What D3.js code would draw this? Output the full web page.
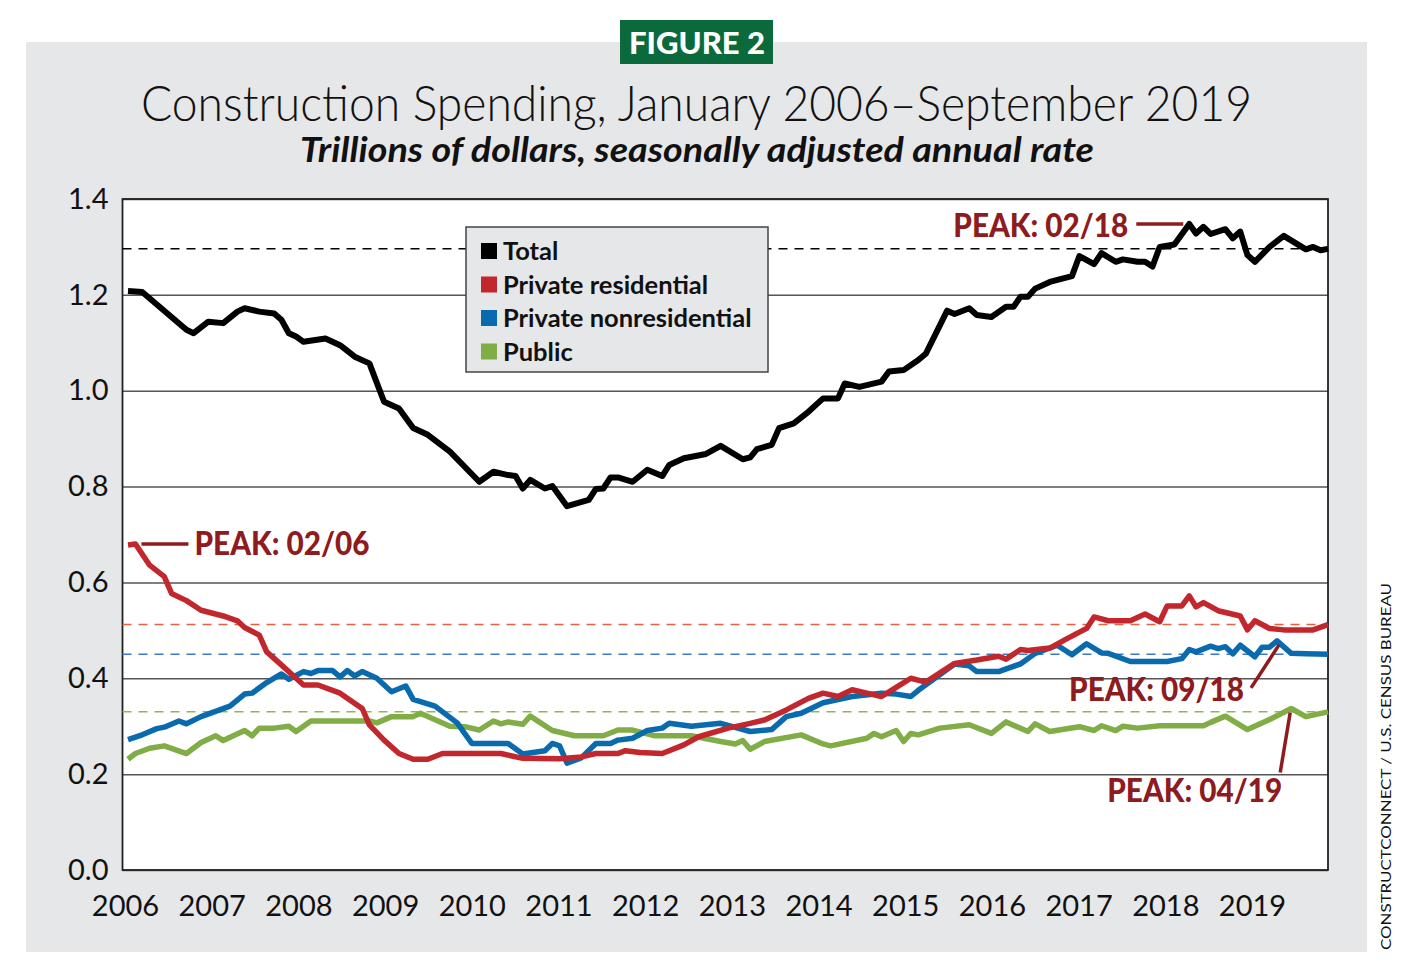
<!DOCTYPE html>
<html>
<head>
<meta charset="utf-8">
<script src="https://cdn.jsdelivr.net/npm/d3@7"></script>
<style>
body { margin: 0; background: #fff; }
svg text { font-family: Lato, "Open Sans", sans-serif; }
</style>
</head>
<body>
<svg id="chart" width="1406" height="971"></svg>
<script>
// values: [month, trillions of dollars]
var totalData = [["2006-01",1.208],["2006-03",1.206],["2006-09",1.127],["2006-10",1.120],["2006-12",1.144],["2007-02",1.141],["2007-04",1.165],["2007-05",1.172],["2007-07",1.165],["2007-09",1.161],["2007-10",1.148],["2007-11",1.120],["2007-12",1.113],["2008-01",1.102],["2008-04",1.109],["2008-06",1.095],["2008-08",1.071],["2008-10",1.057],["2008-12",0.977],["2009-02",0.963],["2009-04",0.922],["2009-06",0.908],["2009-09",0.873],["2010-01",0.810],["2010-03",0.831],["2010-05",0.824],["2010-06",0.822],["2010-07",0.796],["2010-08",0.814],["2010-10",0.796],["2010-11",0.801],["2011-01",0.759],["2011-04",0.772],["2011-05",0.795],["2011-06",0.796],["2011-07",0.819],["2011-08",0.819],["2011-10",0.810],["2011-12",0.835],["2012-02",0.822],["2012-03",0.845],["2012-05",0.859],["2012-08",0.868],["2012-10",0.885],["2013-01",0.857],["2013-02",0.861],["2013-03",0.878],["2013-05",0.887],["2013-06",0.922],["2013-08",0.932],["2013-10",0.956],["2013-12",0.984],["2014-02",0.984],["2014-03",1.015],["2014-05",1.008],["2014-08",1.019],["2014-09",1.040],["2014-11",1.043],["2015-01",1.064],["2015-02",1.077],["2015-05",1.167],["2015-06",1.160],["2015-08",1.172],["2015-09",1.158],["2015-11",1.154],["2016-01",1.175],["2016-02",1.175],["2016-03",1.196],["2016-04",1.196],["2016-05",1.213],["2016-07",1.227],["2016-10",1.239],["2016-11",1.281],["2017-01",1.264],["2017-02",1.287],["2017-04",1.269],["2017-05",1.274],["2017-07",1.269],["2017-08",1.269],["2017-09",1.259],["2017-10",1.300],["2017-12",1.305],["2018-02",1.348],["2018-03",1.328],["2018-04",1.342],["2018-05",1.327],["2018-07",1.337],["2018-08",1.318],["2018-09",1.332],["2018-10",1.283],["2018-11",1.269],["2019-01",1.300],["2019-03",1.323],["2019-06",1.295],["2019-07",1.300],["2019-08",1.293],["2019-09",1.296]];

var residentialData = [["2006-01",0.678],["2006-02",0.680],["2006-04",0.636],["2006-06",0.612],["2006-07",0.577],["2006-09",0.562],["2006-11",0.542],["2007-02",0.530],["2007-04",0.520],["2007-05",0.506],["2007-07",0.490],["2007-08",0.455],["2007-10",0.428],["2008-01",0.386],["2008-03",0.386],["2008-06",0.369],["2008-09",0.337],["2008-10",0.303],["2008-12",0.271],["2009-02",0.243],["2009-04",0.231],["2009-06",0.231],["2009-08",0.243],["2010-04",0.243],["2010-07",0.233],["2010-12",0.232],["2011-03",0.236],["2011-05",0.243],["2011-08",0.243],["2011-09",0.249],["2011-11",0.245],["2012-02",0.243],["2012-05",0.261],["2012-07",0.278],["2012-11",0.296],["2013-02",0.306],["2013-04",0.313],["2013-07",0.334],["2013-10",0.358],["2013-12",0.369],["2014-02",0.362],["2014-04",0.376],["2014-06",0.369],["2014-08",0.362],["2014-10",0.381],["2014-12",0.400],["2015-02",0.392],["2015-06",0.431],["2015-09",0.438],["2015-12",0.446],["2016-01",0.440],["2016-03",0.460],["2016-04",0.458],["2016-07",0.463],["2016-09",0.480],["2016-12",0.504],["2017-01",0.528],["2017-03",0.520],["2017-06",0.520],["2017-08",0.534],["2017-10",0.518],["2017-11",0.551],["2018-01",0.551],["2018-02",0.572],["2018-03",0.549],["2018-04",0.558],["2018-06",0.541],["2018-09",0.530],["2018-10",0.501],["2018-11",0.520],["2019-01",0.504],["2019-03",0.501],["2019-07",0.501],["2019-09",0.512]];

var nonresidentialData = [["2006-01",0.272],["2006-03",0.282],["2006-05",0.295],["2006-06",0.298],["2006-08",0.311],["2006-09",0.305],["2006-11",0.320],["2007-03",0.342],["2007-05",0.367],["2007-06",0.369],["2007-08",0.391],["2007-10",0.409],["2007-11",0.398],["2008-01",0.414],["2008-02",0.410],["2008-03",0.416],["2008-05",0.416],["2008-06",0.403],["2008-07",0.416],["2008-08",0.405],["2008-09",0.414],["2008-11",0.400],["2009-01",0.372],["2009-03",0.384],["2009-04",0.356],["2009-07",0.342],["2009-10",0.307],["2009-11",0.285],["2009-12",0.264],["2010-05",0.264],["2010-07",0.242],["2010-10",0.249],["2010-11",0.264],["2010-12",0.259],["2011-01",0.223],["2011-03",0.234],["2011-05",0.264],["2011-07",0.264],["2011-08",0.271],["2011-10",0.275],["2011-12",0.291],["2012-02",0.296],["2012-03",0.306],["2012-06",0.300],["2012-10",0.306],["2013-02",0.289],["2013-05",0.293],["2013-07",0.320],["2013-09",0.327],["2013-12",0.349],["2014-04",0.362],["2014-08",0.369],["2014-10",0.367],["2014-12",0.362],["2015-01",0.375],["2015-06",0.430],["2015-08",0.426],["2015-09",0.414],["2015-12",0.414],["2016-03",0.430],["2016-05",0.452],["2016-08",0.469],["2016-10",0.449],["2016-12",0.472],["2017-02",0.453],["2017-03",0.452],["2017-06",0.435],["2017-11",0.435],["2018-01",0.441],["2018-02",0.460],["2018-03",0.455],["2018-05",0.467],["2018-06",0.462],["2018-07",0.466],["2018-08",0.451],["2018-09",0.469],["2018-11",0.445],["2018-12",0.465],["2019-01",0.465],["2019-02",0.478],["2019-04",0.452],["2019-06",0.451],["2019-09",0.450]];

var publicData = [["2006-01",0.231],["2006-02",0.243],["2006-04",0.254],["2006-06",0.259],["2006-09",0.243],["2006-11",0.266],["2007-01",0.280],["2007-02",0.270],["2007-05",0.291],["2007-06",0.280],["2007-07",0.296],["2007-09",0.296],["2007-11",0.300],["2007-12",0.289],["2008-02",0.311],["2008-10",0.311],["2008-11",0.307],["2009-01",0.320],["2009-04",0.320],["2009-05",0.327],["2009-09",0.300],["2009-11",0.299],["2010-01",0.292],["2010-03",0.311],["2010-04",0.305],["2010-05",0.309],["2010-07",0.304],["2010-08",0.321],["2010-11",0.291],["2011-02",0.280],["2011-06",0.280],["2011-08",0.292],["2011-10",0.292],["2012-01",0.280],["2012-06",0.280],["2012-10",0.268],["2012-12",0.263],["2013-01",0.270],["2013-02",0.252],["2013-04",0.268],["2013-09",0.282],["2013-12",0.263],["2014-01",0.259],["2014-06",0.275],["2014-07",0.285],["2014-08",0.278],["2014-10",0.291],["2014-11",0.268],["2014-12",0.285],["2015-01",0.282],["2015-04",0.296],["2015-08",0.303],["2015-11",0.285],["2016-01",0.309],["2016-04",0.289],["2016-05",0.305],["2016-07",0.289],["2016-11",0.299],["2017-01",0.291],["2017-02",0.301],["2017-04",0.291],["2017-05",0.300],["2017-07",0.296],["2017-10",0.301],["2018-04",0.301],["2018-05",0.308],["2018-07",0.321],["2018-10",0.293],["2019-01",0.314],["2019-04",0.337],["2019-06",0.320],["2019-09",0.330]];

var seriesNames = ["Total", "Private residential", "Private nonresidential", "Public"];
var years = ["2006","2007","2008","2009","2010","2011","2012","2013","2014","2015","2016","2017","2018","2019"];
var yTicks = [0, 0.2, 0.4, 0.6, 0.8, 1.0, 1.2, 1.4];
var peakLabels = ["PEAK: 02/06", "PEAK: 02/18", "PEAK: 09/18", "PEAK: 04/19"];

var colors = ["#000000", "#c1272d", "#0a6aae", "#80ad46"];
var dashColors = ["#000000", "#e4603e", "#3d78c2", "#8cbb4a"];
var peakColor = "#8e1b1e";

var plot = { left: 122.5, right: 1328, top: 199, bottom: 870 };

var parseMonth = d3.timeParse("%Y-%m");

var svg = d3.select("#chart");

// grey panel
svg.append("rect")
    .attr("x", 26).attr("y", 42)
    .attr("width", 1341).attr("height", 910)
    .attr("fill", "#e6e7e8");

// figure tag
svg.append("rect")
    .attr("x", 620).attr("y", 20)
    .attr("width", 153).attr("height", 44)
    .attr("fill", "#0b6a3b");
svg.append("text")
    .attr("x", 697).attr("y", 54)
    .attr("text-anchor", "middle")
    .attr("textLength", 136).attr("lengthAdjust", "spacingAndGlyphs")
    .style("font-size", "31px").style("font-weight", 900)
    .attr("fill", "#fff")
    .text("FIGURE 2");

// titles
svg.append("text")
    .attr("x", 141).attr("y", 121)
    .attr("textLength", 1111).attr("lengthAdjust", "spacingAndGlyphs")
    .style("font-size", "49px").style("font-weight", 300)
    .attr("fill", "#111")
    .text("Construction Spending, January 2006\u2013September 2019");
svg.append("text")
    .attr("x", 300).attr("y", 162)
    .attr("textLength", 794).attr("lengthAdjust", "spacingAndGlyphs")
    .style("font-size", "35px").style("font-weight", 700).style("font-style", "italic")
    .attr("fill", "#111")
    .text("Trillions of dollars, seasonally adjusted annual rate");

var x = d3.scaleTime()
    .domain([parseMonth("2006-01"), parseMonth("2019-09")])
    .range([128, 1328]);

var y = d3.scaleLinear()
    .domain([0, 1.4])
    .range([plot.bottom, plot.top]);

var yearScale = d3.scalePoint()
    .domain(years)
    .range([125, 1252]);

// plot background
svg.append("rect")
    .attr("x", plot.left).attr("y", plot.top)
    .attr("width", plot.right - plot.left).attr("height", plot.bottom - plot.top)
    .attr("fill", "#fff");

// gridlines + y labels
var yAxis = svg.append("g")
    .attr("transform", "translate(" + plot.left + ",0)")
    .call(d3.axisLeft(y)
        .tickValues(yTicks)
        .tickFormat(d3.format(".1f"))
        .tickSize(-(plot.right - plot.left))
        .tickPadding(14));
yAxis.select(".domain").remove();
yAxis.selectAll(".tick line").attr("stroke", "#555").attr("stroke-width", 1.5);
yAxis.selectAll(".tick text")
    .attr("fill", "#111")
    .style("font-size", "29px")
    .style("font-family", "Lato, sans-serif");

// x labels
var xAxis = svg.append("g")
    .attr("transform", "translate(0," + plot.bottom + ")")
    .call(d3.axisBottom(yearScale).tickSize(0).tickPadding(25));
xAxis.select(".domain").remove();
xAxis.selectAll(".tick text")
    .attr("fill", "#111")
    .style("font-size", "29px")
    .style("font-family", "Lato, sans-serif");

// frame
svg.append("rect")
    .attr("x", plot.left).attr("y", plot.top)
    .attr("width", plot.right - plot.left).attr("height", plot.bottom - plot.top)
    .attr("fill", "none")
    .attr("stroke", "#222")
    .attr("stroke-width", 1.8);

var allSeries = [totalData, residentialData, nonresidentialData, publicData];

// dashed reference lines at latest value
allSeries.forEach(function(s, i) {
    var last = s[s.length - 1][1];
    svg.append("line")
        .attr("x1", plot.left).attr("x2", plot.right)
        .attr("y1", y(last)).attr("y2", y(last))
        .attr("stroke", dashColors[i])
        .attr("stroke-width", 1.5)
        .attr("stroke-dasharray", "9,7");
});

var line = d3.line()
    .x(function(d) { return x(parseMonth(d[0])); })
    .y(function(d) { return y(d[1]); });

// draw public first, total last
[3, 2, 1, 0].forEach(function(i) {
    svg.append("path")
        .datum(allSeries[i])
        .attr("d", line)
        .attr("fill", "none")
        .attr("stroke", colors[i])
        .attr("stroke-width", i == 0 ? 6 : 5.5)
        .attr("stroke-linejoin", "round");
});

// legend
var legend = svg.append("g");
legend.append("rect")
    .attr("x", 466).attr("y", 227)
    .attr("width", 302).attr("height", 145)
    .attr("fill", "#e6e7e8")
    .attr("stroke", "#444")
    .attr("stroke-width", 1.5);
seriesNames.forEach(function(name, i) {
    var cy = 251 + i * 33.5;
    legend.append("text")
        .attr("x", 503).attr("y", cy + 9)
        .style("font-size", "25.5px").style("font-weight", 700)
        .attr("fill", "#111")
        .text(name);
    legend.append("rect")
        .attr("x", 481).attr("y", cy - 8)
        .attr("width", 16).attr("height", 16)
        .attr("fill", colors[i]);
});

// peak annotations
var peakSeries = [residentialData, totalData, nonresidentialData, publicData];
var peakLayout = [
    { lx1: 6, ly1: 0, lx2: 53, ly2: 0, tx: 59, ty: 11, anchor: "start" },
    { lx1: -6, ly1: 0, lx2: -53, ly2: 0, tx: -61, ty: 13, anchor: "end" },
    { lx1: 2, ly1: 4, lx2: -26, ly2: 47, tx: -33, ty: 60, anchor: "end" },
    { lx1: -1, ly1: 4, lx2: -11, ly2: 64, tx: -9, ty: 94, anchor: "end" }
];
peakSeries.forEach(function(s, i) {
    var peak = s.reduce(function(a, b) { return b[1] > a[1] ? b : a; });
    var px = x(parseMonth(peak[0])), py = y(peak[1]);
    var L = peakLayout[i];
    svg.append("line")
        .attr("x1", px + L.lx1).attr("y1", py + L.ly1)
        .attr("x2", px + L.lx2).attr("y2", py + L.ly2)
        .attr("stroke", peakColor)
        .attr("stroke-width", 3.5);
    svg.append("text")
        .attr("x", px + L.tx).attr("y", py + L.ty)
        .attr("text-anchor", L.anchor)
        .attr("textLength", 175).attr("lengthAdjust", "spacingAndGlyphs")
        .style("font-size", "32px").style("font-weight", 900)
        .attr("fill", peakColor)
        .text(peakLabels[i]);
});

// source
svg.append("text")
    .attr("transform", "translate(1391,950) rotate(-90)")
    .attr("textLength", 367).attr("lengthAdjust", "spacingAndGlyphs")
    .style("font-size", "14px")
    .attr("fill", "#111")
    .text("CONSTRUCTCONNECT / U.S. CENSUS BUREAU");
</script>
</body>
</html>
